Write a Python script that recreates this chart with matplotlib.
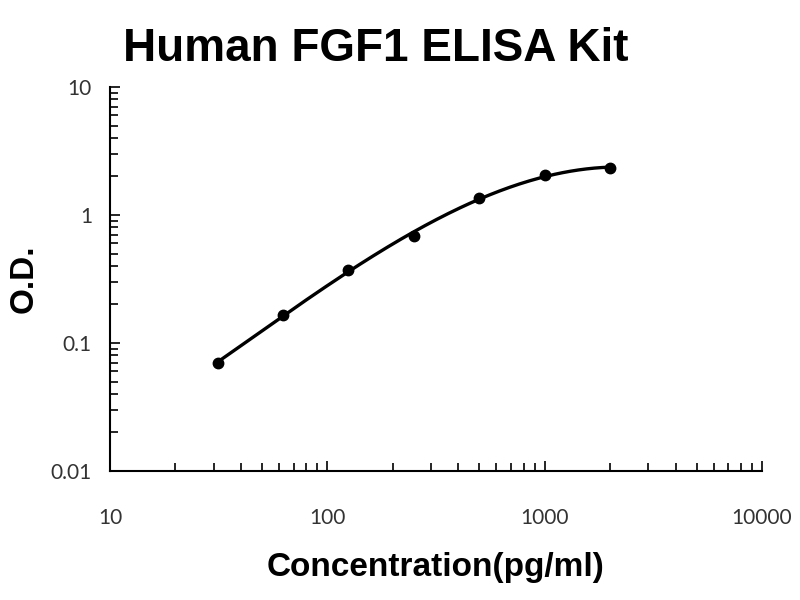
import numpy as np
import matplotlib
matplotlib.use('Agg')
import matplotlib.pyplot as plt
from matplotlib.ticker import LogLocator, NullFormatter, FixedLocator, FixedFormatter

# standard curve data
conc = [31.25, 62.5, 125, 250, 500, 1000, 2000]
od = [0.070, 0.166, 0.372, 0.685, 1.36, 2.05, 2.33]

x_ticks = [10, 100, 1000, 10000]
x_labels = ['10', '100', '1000', '10000']
y_ticks = [0.01, 0.1, 1, 10]
y_labels = ['0.01', '0.1', '1', '10']

fig = plt.figure(figsize=(8, 6), dpi=100)
ax = fig.add_axes([0.1375, 0.215, 0.815, 0.64])

# trend line fitted in log-log space
lx = np.log10(conc)
ly = np.log10(od)
coef = np.polyfit(lx, ly, 3)
xs = np.linspace(lx[0], lx[-1], 200)
ax.plot(10 ** xs, 10 ** np.polyval(coef, xs), color='black', lw=2.4)
ax.plot(conc, od, 'o', color='black', ms=7.5)

ax.set_xscale('log')
ax.set_yscale('log')
ax.set_xlim(10, 10000)
ax.set_ylim(0.01, 10)

ax.xaxis.set_major_locator(FixedLocator(x_ticks))
ax.xaxis.set_major_formatter(FixedFormatter(x_labels))
ax.yaxis.set_major_locator(FixedLocator(y_ticks))
ax.yaxis.set_major_formatter(FixedFormatter(y_labels))
ax.xaxis.set_minor_locator(LogLocator(base=10, subs=np.arange(2, 10)))
ax.yaxis.set_minor_locator(LogLocator(base=10, subs=np.arange(2, 10)))
ax.xaxis.set_minor_formatter(NullFormatter())
ax.yaxis.set_minor_formatter(NullFormatter())

ax.tick_params(which='both', direction='in', width=1.2, color='black')
ax.tick_params(which='major', length=7, labelsize=15)
ax.tick_params(which='minor', length=6)
ax.tick_params(axis='x', which='major', pad=27)
ax.tick_params(axis='y', which='major', pad=13)
for lab in ax.get_xticklabels() + ax.get_yticklabels():
    lab.set_fontfamily('Lato')
    lab.set_color('#333333')

ax.spines['top'].set_visible(False)
ax.spines['right'].set_visible(False)
ax.spines['left'].set_linewidth(1.5)
ax.spines['bottom'].set_linewidth(1.5)

fig.text(0.47, 0.918, 'Human FGF1 ELISA Kit', ha='center', va='center',
         fontsize=33, fontweight='bold', family='Liberation Sans')
ax.set_xlabel('Concentration(pg/ml)', fontsize=24, fontweight='bold',
              family='Liberation Sans', labelpad=17)
ax.set_ylabel('O.D.', fontsize=24, fontweight='bold', family='Liberation Sans',
              labelpad=8)

fig.savefig('out.png', dpi=100)
